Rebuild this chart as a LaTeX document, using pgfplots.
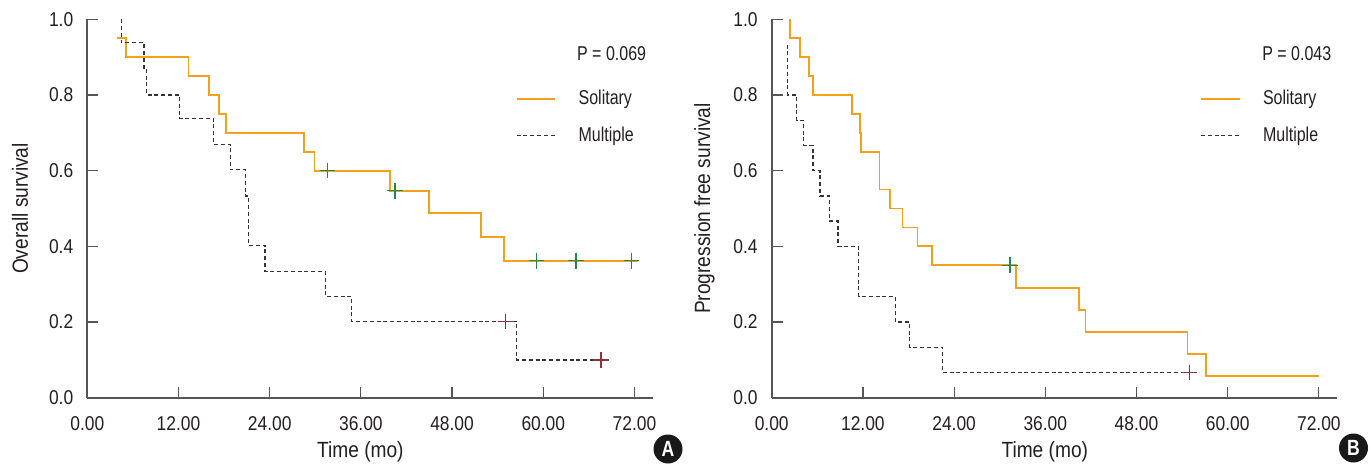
\documentclass[border=0pt]{standalone}
\usepackage{fontspec}
\setmainfont{Liberation Sans}[FakeStretch=0.8]
\newfontfamily\widefont{Liberation Sans}[FakeStretch=0.87]
\usepackage{pgfplots}
\pgfplotsset{compat=1.18}

\definecolor{solo}{HTML}{F5A01A}
\definecolor{multi}{HTML}{333333}
\definecolor{cgreen}{HTML}{1E8A4C}
\definecolor{cred}{HTML}{8E3434}
\definecolor{axgray}{HTML}{555555}
\definecolor{txt}{HTML}{231F20}

\tikzset{
  sololine/.style={solo, line width=0.85bp, const plot},
  multiline/.style={multi, line width=0.65bp, dash pattern=on 2bp off 1.4bp, const plot},
  censor/.style={only marks, mark=+, mark size=3.9bp, mark options={solid, line width=0.7bp, #1}},
}

\pgfplotsset{km/.style={
  scale only axis, width=282.7bp, height=189.2bp,
  xmin=0, xmax=74.4, ymin=0, ymax=1,
  axis x line=bottom, axis y line=left,
  axis line style={-, axgray, line width=1bp},
  tick align=inside,
  tick style={axgray, line width=0.6bp},
  major tick length=5.5bp,
  xtick={0,12,24,36,48,60,72},
  xticklabels={0.00,12.00,24.00,36.00,48.00,60.00,72.00},
  ytick={0,0.2,0.4,0.6,0.8,1},
  yticklabels={0.0,0.2,0.4,0.6,0.8,1.0},
  ticklabel style={font=\widefont\fontsize{10bp}{12bp}\selectfont, text=txt},
  xticklabel style={yshift=-6bp},
  yticklabel style={xshift=-3.5bp},
  label style={font=\widefont\fontsize{11bp}{13bp}\selectfont, text=txt},
  xlabel style={at={(axis description cs:0.483,-0.1435)}, anchor=center},
  ylabel style={at={(axis description cs:-0.119,0.5)}, anchor=center},
  clip=false,
}}

\begin{document}
\begin{tikzpicture}[x=0.5bp, y=0.5bp]
\path (0,0) rectangle (1369,465);
\coordinate (oA) at (87.3,67.3);
\coordinate (oB) at (771.7,67.3);

% panel A
\begin{axis}[km, at={(oA)}, anchor=south west,
  xlabel={Time (mo)}, ylabel={Overall survival}]
\addplot[sololine] coordinates {
  (3.95,0.95) (5.1,0.90) (13.3,0.85) (16.0,0.80) (17.3,0.75) (18.25,0.70)
  (28.55,0.65) (29.9,0.60) (39.8,0.547) (44.96,0.489) (51.8,0.425)
  (54.8,0.362) (72.5,0.362)};
\addplot[multiline] coordinates {
  (4.47,1.0) (4.47,0.938) (7.46,0.870) (7.8,0.80) (12.15,0.738) (16.6,0.670)
  (18.8,0.603) (20.8,0.533) (21.2,0.403) (23.4,0.334) (31.3,0.268)
  (34.8,0.201) (56.5,0.10) (67.6,0.10)};
\addplot[censor=cgreen] coordinates {
  (31.6,0.60) (40.5,0.547) (59.1,0.362) (64.3,0.362) (71.6,0.362)};
\addplot[censor=cred] coordinates {(55.05,0.201) (67.6,0.10)};
\node[anchor=west, text=txt, font=\fontsize{10bp}{12bp}\selectfont, inner sep=0pt]
  at (axis cs:64.4,0.91) {P = 0.069};
\draw[solo, line width=0.85bp] (axis cs:56.5,0.789) -- (axis cs:61.6,0.789);
\node[anchor=west, text=txt, font=\fontsize{10bp}{12bp}\selectfont, inner sep=0pt]
  at (axis cs:64.6,0.789) {Solitary};
\draw[multi, line width=0.65bp, dash pattern=on 2bp off 1.4bp]
  (axis cs:56.5,0.692) -- (axis cs:61.6,0.692);
\node[anchor=west, text=txt, font=\fontsize{10bp}{12bp}\selectfont, inner sep=0pt]
  at (axis cs:64.6,0.692) {Multiple};
\end{axis}

% panel B
\begin{axis}[km, at={(oB)}, anchor=south west,
  xlabel={Time (mo)}, ylabel={Progression free survival}]
\addplot[sololine] coordinates {
  (2.45,1.0) (2.45,0.95) (3.68,0.90) (4.87,0.85) (5.43,0.80) (10.6,0.75)
  (11.6,0.70) (11.75,0.65) (14.2,0.55) (15.6,0.50) (17.2,0.45) (19.2,0.40)
  (21.1,0.35) (32.1,0.29) (40.4,0.232) (41.3,0.174) (54.7,0.115)
  (57.1,0.058) (72.05,0.058)};
\addplot[multiline] coordinates {
  (2.1,0.933) (2.1,0.80) (3.29,0.733) (4.2,0.667) (5.43,0.60) (6.36,0.533)
  (7.58,0.467) (8.72,0.40) (11.45,0.267) (16.26,0.20) (18.15,0.133)
  (22.5,0.067) (55.0,0.067)};
\addplot[censor=cgreen] coordinates {(31.35,0.35)};
\addplot[censor=cred] coordinates {(55.0,0.067)};
\node[anchor=west, text=txt, font=\fontsize{10bp}{12bp}\selectfont, inner sep=0pt]
  at (axis cs:64.5,0.91) {P = 0.043};
\draw[solo, line width=0.85bp] (axis cs:56.5,0.789) -- (axis cs:61.6,0.789);
\node[anchor=west, text=txt, font=\fontsize{10bp}{12bp}\selectfont, inner sep=0pt]
  at (axis cs:64.6,0.789) {Solitary};
\draw[multi, line width=0.65bp, dash pattern=on 2bp off 1.4bp]
  (axis cs:56.5,0.692) -- (axis cs:61.6,0.692);
\node[anchor=west, text=txt, font=\fontsize{10bp}{12bp}\selectfont, inner sep=0pt]
  at (axis cs:64.6,0.692) {Multiple};
\end{axis}

% panel letters
\node[circle, fill=black!90, text=white, minimum size=14.5bp, inner sep=0pt,
  font=\bfseries\fontsize{11bp}{11bp}\selectfont] at (668,16) {A};
\node[circle, fill=black!90, text=white, minimum size=14.5bp, inner sep=0pt,
  font=\bfseries\fontsize{11bp}{11bp}\selectfont] at (1353.5,17) {B};
\end{tikzpicture}
\end{document}
